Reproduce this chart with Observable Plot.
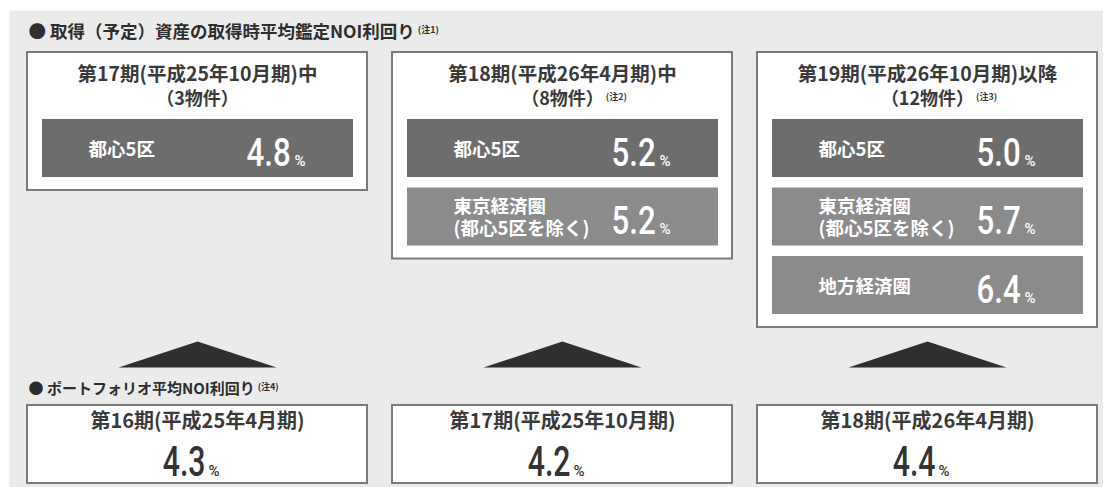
<!DOCTYPE html>
<html><head><meta charset="utf-8">
<script src="https://cdn.jsdelivr.net/npm/d3@7"></script>
<script src="https://cdn.jsdelivr.net/npm/@observablehq/plot@0.6"></script>
<style>
body{margin:0;background:#fff;}
#chart svg{display:block;}
</style></head><body><div id="chart"></div>
<script>
// ---- data ----
const headings = ["● 取得（予定）資産の取得時平均鑑定NOI利回り", "● ポートフォリオ平均NOI利回り"];
const headingNotes = ["(注1)", "(注4)"];
const acqPeriods = ["第17期(平成25年10月期)中", "第18期(平成26年4月期)中", "第19期(平成26年10月期)以降"];
const acqCounts = ["（3物件）", "（8物件）", "（12物件）"];
const acqNotes = ["", "(注2)", "(注3)"];
const regions = ["都心5区", "東京経済圏\n(都心5区を除く)", "地方経済圏"];
const acqYields = [[4.8], [5.2, 5.2], [5.0, 5.7, 6.4]];
const portfolioPeriods = ["第16期(平成25年4月期)", "第17期(平成25年10月期)", "第18期(平成26年4月期)"];
const portfolioYields = [4.3, 4.2, 4.4];

// ---- styles / layout (row units of the y scale) ----
const FONT = "'Noto Sans CJK JP', 'Noto Sans', sans-serif";
const NUMFONT = "Roboto, 'Liberation Sans', sans-serif";
const L = {heading1: -1.27, title1: -0.65, title2: -0.29, boxTop: -1,
           apex: 3.24, base: 3.62, heading2: 3.93, pTop: 4.175, pBottom: 5.314, pTitle: 4.41, pValue: 5.2};
const STEP = 365;               // px per column unit
const colW = 340 / STEP;        // box width in column units
const center = colW / 2;
const triHalf = 79 / STEP;
const headingSizes = [17.5, 15];
const TITLE_SIZE = 19.5, COUNT_SIZE = 18;

const ctx = document.createElement("canvas").getContext("2d");
function tw(text, size, weight = 700, family = FONT) {
  ctx.font = `${weight} ${size}px ${family}`;
  return ctx.measureText(text).width;
}

const bars = acqYields.flatMap((vals, i) => vals.map((v, j) => ({col: i, row: j, region: regions[j], value: v})));
const boxes = acqYields.map((vals, i) => ({col: i, n: vals.length, period: acqPeriods[i], count: acqCounts[i], note: acqNotes[i]}));
const tri = boxes.flatMap(b => [
  {col: b.col, x: b.col + center - triHalf, y: L.base},
  {col: b.col, x: b.col + center, y: L.apex},
  {col: b.col, x: b.col + center + triHalf, y: L.base}
]);
const portfolio = portfolioPeriods.map((p, i) => ({col: i, period: p, value: portfolioYields[i]}));
const headingData = headings.map((h, i) => ({text: h, note: headingNotes[i], size: headingSizes[i], y: i === 0 ? L.heading1 : L.heading2}));

const plot = Plot.plot({
  width: 1103, height: 487,
  marginTop: 10, marginLeft: 9, marginRight: 0, marginBottom: 0,
  x: {domain: [0, 3], range: [27, 27 + 3 * STEP], axis: null},
  y: {domain: [0, 1], range: [119, 187.5], axis: null},
  style: {fontFamily: FONT, background: "transparent", overflow: "hidden"},
  marks: [
    Plot.frame({fill: "#ebebeb", stroke: null}),
    // headings
    Plot.text(headingData.slice(0, 1), {x: () => 0, y: "y", text: "text", textAnchor: "start", dx: 1,
      fontSize: headingSizes[0], fontWeight: 700, fill: "#2e2e2e"}),
    Plot.text(headingData.slice(1), {x: () => 0, y: "y", text: "text", textAnchor: "start", dx: 1,
      fontSize: headingSizes[1], fontWeight: 700, fill: "#2e2e2e"}),
    Plot.text(headingData, {x: d => (tw(d.text, d.size) + 3) / STEP, y: "y", text: "note", textAnchor: "start", dx: 1, dy: -2,
      fontSize: 9, fontWeight: 700, fill: "#2e2e2e"}),
    // acquisition boxes
    Plot.rect(boxes, {x1: "col", x2: d => d.col + colW, y1: () => L.boxTop, y2: "n",
      fill: "white", stroke: "#7a7a7a", strokeWidth: 2, insetTop: 1.5, insetBottom: -2.5}),
    Plot.text(boxes, {x: d => d.col + center, y: () => L.title1, text: "period",
      fontSize: TITLE_SIZE, fontWeight: 700, fill: "#3a3a3a"}),
    Plot.text(boxes, {x: d => d.col + center, y: () => L.title2, text: "count",
      fontSize: COUNT_SIZE, fontWeight: 700, fill: "#3a3a3a"}),
    Plot.text(boxes, {x: d => d.col + center + (tw(d.count, COUNT_SIZE) / 2 + 2) / STEP, y: () => L.title2, text: "note",
      textAnchor: "start", dy: -3, fontSize: 9, fontWeight: 700, fill: "#3a3a3a"}),
    // region bars
    Plot.rect(bars, {x1: "col", x2: d => d.col + colW, y1: "row", y2: d => d.row + 1,
      fill: d => d.row === 0 ? "#6d6d6d" : "#8b8b8b", insetLeft: 15, insetRight: 14, insetBottom: 10.5}),
    Plot.text(bars, {x: "col", y: d => d.row + 0.423, text: "region", dx: 61, textAnchor: "start",
      fill: "white", fontSize: 18.5, fontWeight: 700, lineHeight: 1.22}),
    Plot.text(bars, {x: "col", y: d => d.row + 0.672, text: d => d.value.toFixed(1), dx: 219, textAnchor: "start",
      lineAnchor: "bottom", fill: "white", fontSize: 39, fontWeight: 500, fontFamily: NUMFONT}),
    Plot.text(bars, {x: "col", y: d => d.row + 0.672, text: () => "%", dx: 267, textAnchor: "start",
      lineAnchor: "bottom", fill: "white", fontSize: 15, fontWeight: 500, fontFamily: NUMFONT}),
    // triangles
    Plot.line(tri, {x: "x", y: "y", z: "col", fill: "#2f2f2f", stroke: null}),
    // portfolio boxes
    Plot.rect(portfolio, {x1: "col", x2: d => d.col + colW, y1: () => L.pTop, y2: () => L.pBottom,
      fill: "white", stroke: "#7a7a7a", strokeWidth: 2}),
    Plot.text(portfolio, {x: d => d.col + center, y: () => L.pTitle, text: "period",
      fontSize: 20, fontWeight: 700, fill: "#3a3a3a"}),
    Plot.text(portfolio, {x: d => d.col + center, y: () => L.pValue, text: d => d.value.toFixed(1), dx: 8,
      textAnchor: "end", lineAnchor: "bottom", fill: "#333", fontSize: 42, fontWeight: 500, fontFamily: NUMFONT}),
    Plot.text(portfolio, {x: d => d.col + center, y: () => L.pValue, text: () => "%", dx: 11,
      textAnchor: "start", lineAnchor: "bottom", fill: "#333", fontSize: 15, fontWeight: 500, fontFamily: NUMFONT})
  ]
});

// condense the numeric glyphs horizontally (DIN-condensed look)
plot.querySelectorAll("text").forEach(t => {
  if (!/^\d+\.\d$/.test(t.textContent.trim())) return;
  const big = t.closest("g") && t.closest("g").getAttribute("font-size") === "42";
  const s = big ? 0.72 : 0.8;
  const tr = t.getAttribute("transform");
  if (tr) t.setAttribute("transform", tr + ` scale(${s},1)`);
  else {
    const x = +t.getAttribute("x") || 0, y = +t.getAttribute("y") || 0;
    t.removeAttribute("x"); t.removeAttribute("y");
    t.setAttribute("transform", `translate(${x},${y}) scale(${s},1)`);
  }
});
document.getElementById("chart").appendChild(plot);
</script></body></html>
